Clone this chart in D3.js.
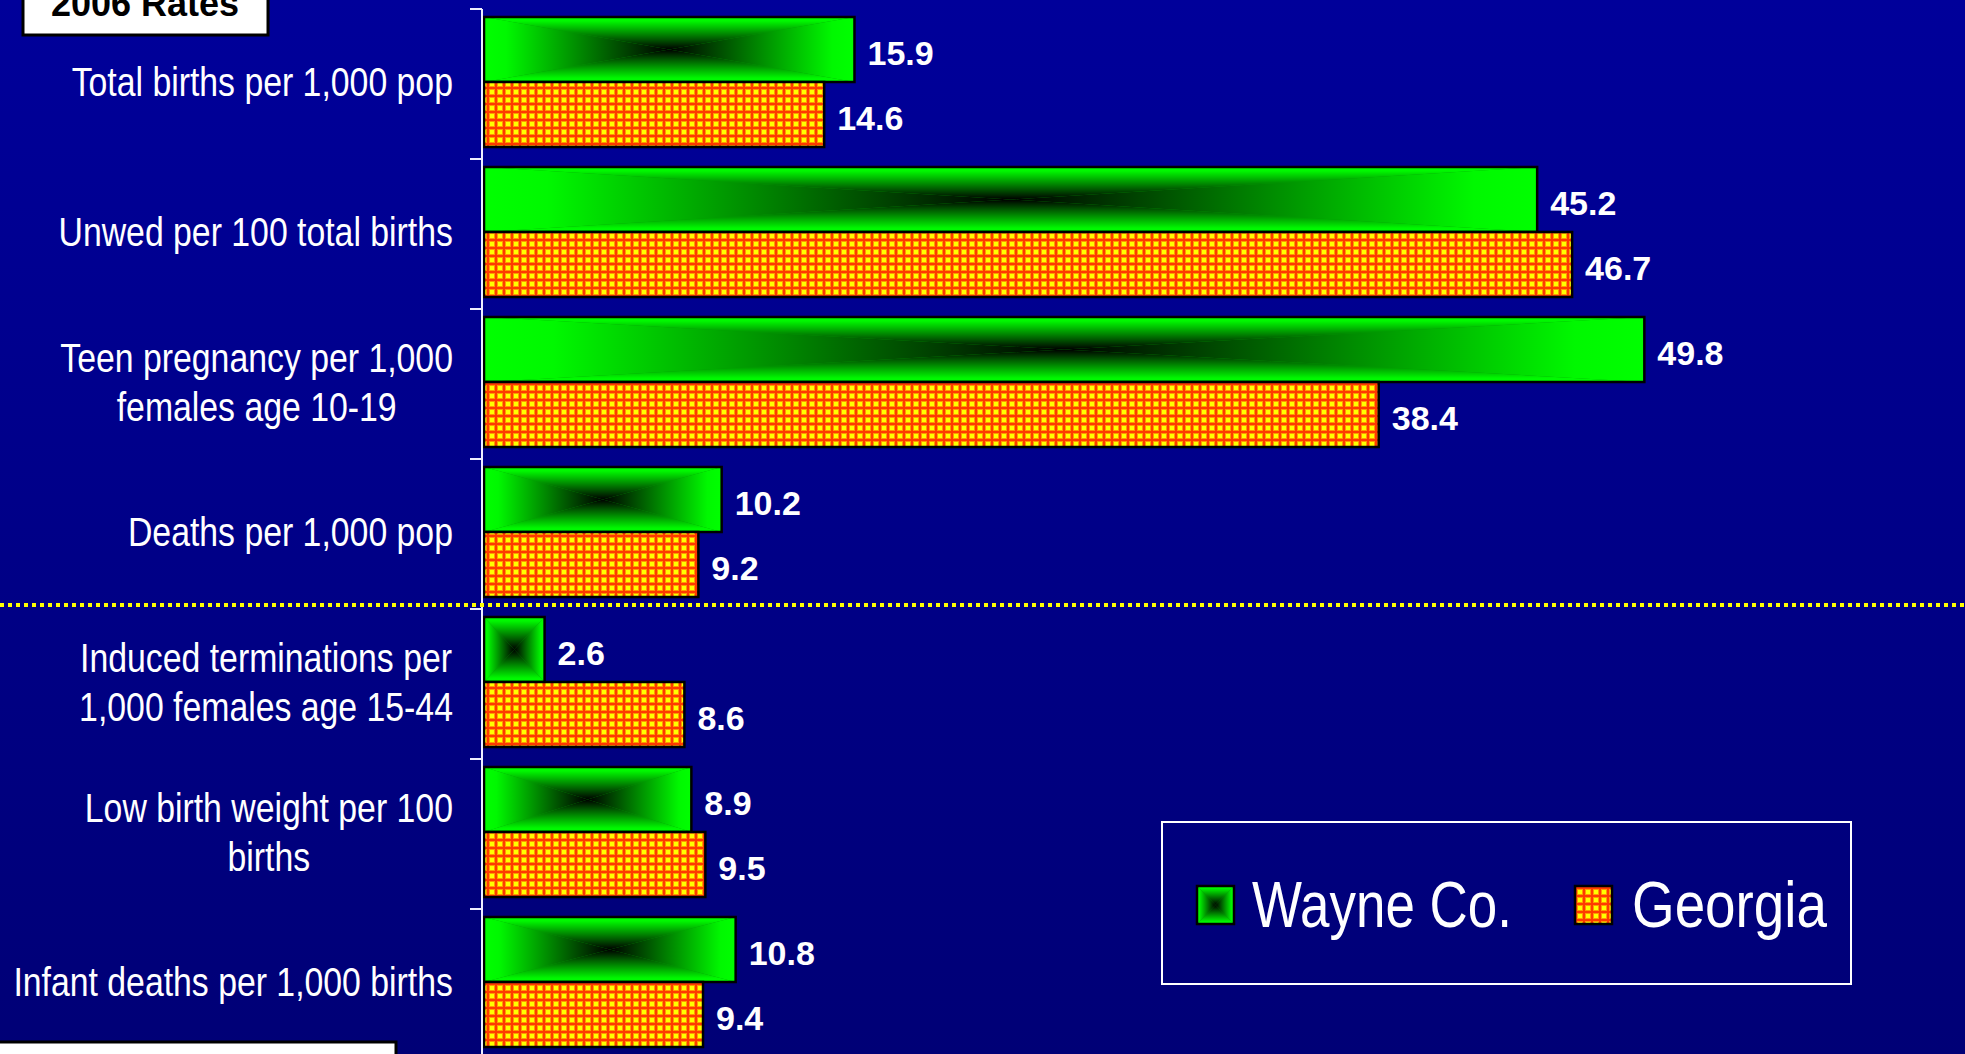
<!DOCTYPE html>
<html><head><meta charset="utf-8">
<script src="https://cdn.jsdelivr.net/npm/d3@7"></script>
<style>html,body{margin:0;padding:0;overflow:hidden;background:#000088}</style>
</head><body><svg id="c" width="1965" height="1054"></svg>
<script>
const categories = [
  "Total births per 1,000 pop",
  "Unwed per 100 total births",
  "Teen pregnancy per 1,000\nfemales age 10-19",
  "Deaths per 1,000 pop",
  "Induced terminations per\n1,000 females age 15-44",
  "Low birth weight per 100\nbirths",
  "Infant deaths per 1,000 births"
];
const seriesNames = ["Wayne Co.", "Georgia"];
const wayneValues = [15.9, 45.2, 49.8, 10.2, 2.6, 8.9, 10.8];
const georgiaValues = [14.6, 46.7, 38.4, 9.2, 8.6, 9.5, 9.4];
const titleText = "2006 Rates";

const W = 1965, H = 1054;
const svg = d3.select("#c");
const defs = svg.append("defs");
const SANS = "Arial, 'Liberation Sans', sans-serif";
const NARROW_SCALE = 0.845;

// background gradient
const bg = defs.append("linearGradient").attr("id","bg").attr("x1",0).attr("y1",0).attr("x2",0).attr("y2",1);
bg.append("stop").attr("offset","0%").attr("stop-color","#00009a");
bg.append("stop").attr("offset","100%").attr("stop-color","#000076");
svg.append("rect").attr("width",W).attr("height",H).attr("fill","url(#bg)");

// green rectangular gradients (4 directions)
const dirs = {gL:[0,0,1,0], gR:[1,0,0,0], gT:[0,0,0,1], gB:[0,1,0,0]};
Object.entries(dirs).forEach(([id,[x1,y1,x2,y2]]) => {
  const g = defs.append("linearGradient").attr("id",id)
    .attr("x1",x1).attr("y1",y1).attr("x2",x2).attr("y2",y2);
  g.append("stop").attr("offset","0%").attr("stop-color","#00ff00");
  g.append("stop").attr("offset","12%").attr("stop-color","#00f800");
  g.append("stop").attr("offset","100%").attr("stop-color","#000000");
});

// orange grid pattern
const pat = defs.append("pattern").attr("id","grid").attr("patternUnits","userSpaceOnUse")
  .attr("width",8).attr("height",8);
pat.append("rect").attr("width",8).attr("height",8).attr("fill","#ff3a00");
pat.append("rect").attr("x",1).attr("y",1).attr("width",6).attr("height",6).attr("fill","#ff9a00");
pat.append("rect").attr("x",2).attr("y",2).attr("width",4).attr("height",4).attr("fill","#ffff00");

// scales
const x = d3.scaleLinear().domain([0, 60]).range([484, 484 + 60 * 23.3]);
const y0 = d3.scaleBand().domain(categories).range([9, 9 + 150 * categories.length]).padding(0);
const y1 = d3.scaleBand().domain(seriesNames).range([8, 138]).padding(0);

function greenBar(g, bx, by, bw, bh) {
  const cx = bx + bw/2, cy = by + bh/2;
  g.append("rect").attr("x",bx).attr("y",by).attr("width",bw).attr("height",bh).attr("fill","#00a000");
  const tri = [
    [[bx,by],[cx,cy],[bx,by+bh],"gL"],
    [[bx+bw,by],[cx,cy],[bx+bw,by+bh],"gR"],
    [[bx,by],[bx+bw,by],[cx,cy],"gT"],
    [[bx,by+bh],[bx+bw,by+bh],[cx,cy],"gB"]
  ];
  tri.forEach(t => {
    g.append("polygon").attr("points", t.slice(0,3).map(p=>p.join(",")).join(" "))
      .attr("fill","url(#"+t[3]+")");
  });
  g.append("rect").attr("x",bx).attr("y",by).attr("width",bw).attr("height",bh)
    .attr("fill","none").attr("stroke","#000").attr("stroke-width",2.5);
}
function orangeBar(g, bx, by, bw, bh) {
  g.append("rect").attr("x",bx).attr("y",by).attr("width",bw).attr("height",bh)
    .attr("fill","url(#grid)").attr("stroke","#000").attr("stroke-width",2.5);
}

// bars
const barsG = svg.append("g");
categories.forEach((c,i) => {
  const vals = [wayneValues[i], georgiaValues[i]];
  seriesNames.forEach((s,j) => {
    const by = y0(c) + y1(s), bh = y1.bandwidth();
    const bw = x(vals[j]) - x(0);
    if (j === 0) greenBar(barsG, x(0), by, bw, bh);
    else orangeBar(barsG, x(0), by, bw, bh);
    barsG.append("text").attr("x", x(vals[j]) + 13).attr("y", by + bh/2).attr("dy","0.45em")
      .attr("fill","#fff").attr("font-family",SANS)
      .attr("font-weight","bold").attr("font-size",34).text(vals[j].toFixed(1));
  });
});

// axis
const axisX = 482;
const axG = svg.append("g");
axG.append("line").attr("x1",axisX).attr("x2",axisX).attr("y1",y0.range()[0]).attr("y2",y0.range()[1])
  .attr("stroke","#eef").attr("stroke-width",2);
const tickYs = categories.map(c => y0(c)).concat([y0.range()[1]]);
tickYs.forEach(ty => {
  axG.append("line").attr("x1",axisX-12).attr("x2",axisX).attr("y1",ty).attr("y2",ty)
    .attr("stroke","#eef").attr("stroke-width",2);
});

// category labels (condensed by horizontal scaling)
const labG = svg.append("g");
const labelRight = 453, lineH = 49;
categories.forEach(c => {
  const lines = c.split("\n");
  const cyc = y0(c) + y0.bandwidth()/2 - 2;
  const t = labG.append("text").attr("fill","#fff")
    .attr("font-family",SANS)
    .attr("font-size",40).attr("text-anchor","middle");
  lines.forEach((ln,k) => {
    t.append("tspan").attr("x",0).attr("y", cyc + (k - (lines.length-1)/2) * lineH).attr("dy","0.36em").text(ln);
  });
  const w = t.node().getBBox().width * NARROW_SCALE;
  t.attr("transform", `translate(${labelRight - w/2},0) scale(${NARROW_SCALE},1)`);
});

// dotted separator
svg.append("line").attr("x1",0).attr("x2",W).attr("y1",605).attr("y2",605)
  .attr("stroke","#ffff00").attr("stroke-width",4).attr("stroke-dasharray","4,4");

// title box
svg.append("rect").attr("x",23).attr("y",-5).attr("width",245).attr("height",40)
  .attr("fill","#fff").attr("stroke","#000").attr("stroke-width",3);
svg.append("text").attr("x",145).attr("y",16).attr("text-anchor","middle")
  .attr("font-family",SANS).attr("font-weight","bold")
  .attr("font-size",36).attr("fill","#000").text(titleText);

// bottom-left box
svg.append("rect").attr("x",-3).attr("y",1042).attr("width",399).attr("height",30)
  .attr("fill","#fff").attr("stroke","#000").attr("stroke-width",3);

// legend
const lg = svg.append("g");
lg.append("rect").attr("x",1162).attr("y",822).attr("width",689).attr("height",162)
  .attr("fill","none").attr("stroke","#fff").attr("stroke-width",2);
greenBar(lg, 1197, 886, 37, 38);
orangeBar(lg, 1575, 886, 37, 38);
const legendPos = [[1252, 260], [1632, 195]];
seriesNames.forEach((s,i) => {
  lg.append("text").attr("x",legendPos[i][0]).attr("y",927)
    .attr("font-family",SANS)
    .attr("font-size",64).attr("fill","#fff")
    .attr("textLength",legendPos[i][1]).attr("lengthAdjust","spacingAndGlyphs").text(s);
});
</script></body></html>
